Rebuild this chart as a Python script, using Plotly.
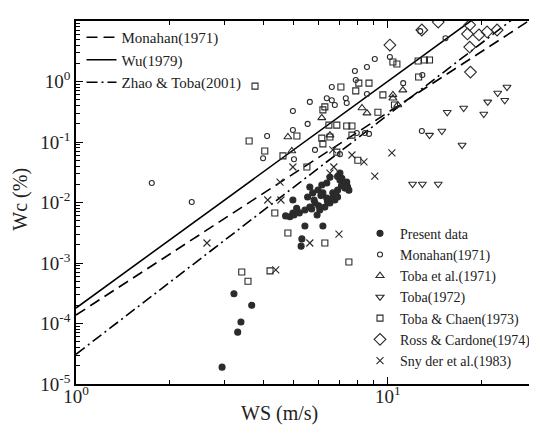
import plotly.graph_objects as go

# empirical fits, two end points each (straight lines on log-log axes)
fit_ws = [1.0, 30.0]
fit_monahan = [1.38e-4, 12.2]
fit_wu = [1.8e-4, 62.0]
fit_zhao = [3.1e-5, 21.6]

present_ws = [2.94, 3.21, 3.66, 3.38, 3.30,
              4.96, 5.42, 6.19, 5.30, 5.27, 4.96, 4.85, 5.14, 5.42, 5.62,
              5.84, 5.53, 5.74, 5.97, 6.14, 6.37, 6.52, 7.02, 7.12, 7.38,
              7.38, 5.93, 6.05, 6.28, 6.52, 6.76, 6.90, 6.66, 6.37, 5.62,
              6.19, 7.28, 7.43, 7.02, 6.90,
              5.00, 5.20, 5.70, 6.00, 6.40, 6.60, 5.80, 6.10, 6.90, 7.10,
              7.30, 7.50, 4.70, 5.10, 6.80]
present_wc = [1.9e-5, 3.1e-4, 2.0e-4, 1.06e-4, 7.2e-5,
              0.011, 0.0041, 0.0041, 0.0025, 0.0019, 0.0067, 0.0058, 0.0070, 0.0075, 0.0084,
              0.0098, 0.0123, 0.0144, 0.0161, 0.0195, 0.021, 0.0262, 0.0307, 0.0252, 0.0218,
              0.0195, 0.0062, 0.0075, 0.0084, 0.0098, 0.011, 0.0123, 0.0144, 0.0118, 0.018,
              0.0144, 0.0173, 0.018, 0.0236, 0.027,
              0.0062, 0.0067, 0.0078, 0.0088, 0.0105, 0.0115, 0.011, 0.013, 0.016, 0.019,
              0.021, 0.016, 0.0060, 0.0080, 0.014]

monahan_ws = [1.75, 2.35, 4.10, 3.98, 9.08, 8.57, 10.15, 7.84, 7.89, 6.61,
              5.62, 4.96, 6.37, 6.61, 6.76, 7.33, 7.38, 8.57, 11.2, 5.53,
              4.96, 5.84, 7.02, 7.95, 8.44, 8.70, 12.85, 12.7, 12.9, 15.3, 5.00]
monahan_wc = [0.021, 0.0102, 0.126, 0.054, 2.36, 1.74, 2.54, 1.49, 1.06, 0.81,
              0.46, 0.325, 0.53, 0.49, 0.41, 0.53, 0.44, 0.62, 0.94, 0.199,
              0.158, 0.074, 0.063, 0.141, 0.141, 0.136, 0.152, 6.8, 1.28, 5.2, 0.052]

toba71_ws = [4.78, 4.92, 6.14, 8.26, 8.57, 10.38, 11.17, 10.38, 10.76, 6.52]
toba71_wc = [0.121, 0.071, 0.25, 0.365, 0.30, 0.60, 0.72, 0.53, 0.41, 0.13]

toba72_ws = [12.0, 12.9, 14.5, 13.6, 14.9, 17.3, 15.5, 17.5, 20.3, 20.9, 22.5, 23.7, 24.1]
toba72_wc = [0.0202, 0.0202, 0.0202, 0.13, 0.152, 0.089, 0.31, 0.365, 0.29, 0.46, 0.645, 0.49, 0.81]

chaen_ws = [3.75, 3.59, 4.03, 3.40, 3.56, 4.19, 4.34, 4.78, 6.28, 7.50,
            5.50, 10.38, 10.69, 12.5, 13.1, 13.6, 12.55, 8.07, 8.70, 7.07,
            7.89, 9.64, 10.5, 6.19, 6.28, 9.29, 6.47, 6.86, 7.38, 7.67,
            5.11, 4.61, 6.14, 6.52, 6.19, 7.67, 8.01, 6.86]
chaen_wc = [0.84, 0.104, 0.071, 0.00071, 0.00050, 0.00074, 0.0067, 0.00313, 0.00214, 0.00104,
            0.0386, 2.10, 1.95, 2.18, 2.27, 2.27, 1.19, 0.94, 0.94, 0.81,
            0.70, 0.60, 0.41, 0.34, 0.38, 0.31, 0.19, 0.19, 0.184, 0.184,
            0.126, 0.059, 0.116, 0.121, 0.093, 0.13, 0.050, 0.068]

ross_ws = [10.15, 14.5, 12.85, 18.3, 18.0, 19.6, 20.8, 22.4, 18.3, 18.4]
ross_wc = [4.0, 9.6, 7.1, 8.6, 6.1, 5.9, 6.6, 7.1, 3.7, 1.43]

snyder_ws = [4.96, 7.67, 8.38, 10.3, 9.08, 4.51, 4.12, 4.54, 6.52, 6.71, 6.66, 6.97, 5.62, 4.37, 2.63]
snyder_wc = [0.0386, 0.061, 0.047, 0.066, 0.0274, 0.0218, 0.011, 0.011, 0.0307, 0.0386,
             0.074, 0.0030, 0.00214, 0.00077, 0.00214]

x_ticks = [1, 10]
x_ticktext = ["10<sup>0</sup>", "10<sup>1</sup>"]
y_ticks = [1e-5, 1e-4, 1e-3, 1e-2, 1e-1, 1, 10]
y_ticktext = ["10<sup>-5</sup>", "10<sup>-4</sup>", "10<sup>-3</sup>", "10<sup>-2</sup>",
              "10<sup>-1</sup>", "10<sup>0</sup>", "10<sup>1</sup>"]

x_minor = [k * 10 ** e for e in range(0, 2) for k in range(2, 10) if k * 10 ** e <= 30]
y_minor = [k * 10.0 ** e for e in range(-5, 1) for k in range(2, 10)]

SERIF = "Liberation Serif, Times New Roman, serif"
INK = "#222"

fig = go.Figure()

# fitted lines -> first legend
fig.add_trace(go.Scatter(x=fit_ws, y=fit_monahan, mode="lines", name="Monahan(1971)",
                         line=dict(color="black", width=1.6, dash="11px,6px"), legend="legend"))
fig.add_trace(go.Scatter(x=fit_ws, y=fit_wu, mode="lines", name="Wu(1979)",
                         line=dict(color="black", width=1.6), legend="legend"))
fig.add_trace(go.Scatter(x=fit_ws, y=fit_zhao, mode="lines", name="Zhao & Toba(2001)",
                         line=dict(color="black", width=1.6, dash="11px,4px,2px,4px"), legend="legend"))

# observations -> second legend
obs = [
    ("Present data", present_ws, present_wc, "circle", 6),
    ("Monahan(1971)", monahan_ws, monahan_wc, "circle-open", 5),
    ("Toba et al.(1971)", toba71_ws, toba71_wc, "triangle-up-open", 7),
    ("Toba(1972)", toba72_ws, toba72_wc, "triangle-down-open", 7),
    ("Toba & Chaen(1973)", chaen_ws, chaen_wc, "square-open", 6),
    ("Ross & Cardone(1974)", ross_ws, ross_wc, "diamond-open", 9),
    ("Sny der et al.(1983)", snyder_ws, snyder_wc, "x-thin-open", 7),
]
for name, xs, ys, sym, size in obs:
    fig.add_trace(go.Scatter(
        x=xs, y=ys, mode="markers", name=name, legend="legend2",
        marker=dict(symbol=sym, size=size, color="#2b2b2b",
                    line=dict(color="#2b2b2b", width=1.1)),
    ))

axis_common = dict(
    type="log", showgrid=False, zeroline=False, automargin=False,
    showline=True, linecolor="black", linewidth=1.6, mirror="ticks",
    ticks="inside", ticklen=7, tickwidth=1.2, tickcolor="black",
    tickmode="array",
    tickfont=dict(family=SERIF, size=19, color=INK),
)

# the page body keeps its default 8px margin, so the figure is 8px smaller
fig.update_layout(
    width=529, height=419,
    margin=dict(l=68, r=1, t=13, b=43, autoexpand=False),
    paper_bgcolor="white", plot_bgcolor="white",
    font=dict(family=SERIF, color=INK),
    xaxis=dict(axis_common, range=[0, 1.475], tickvals=x_ticks, ticktext=x_ticktext,
               ticklabelstandoff=-6,
               minor=dict(tickmode="array", tickvals=x_minor, ticks="inside", ticklen=4,
                          tickcolor="black")),
    yaxis=dict(axis_common, range=[-5, 1], tickvals=y_ticks, ticktext=y_ticktext,
               minor=dict(tickmode="array", tickvals=y_minor, ticks="inside", ticklen=4,
                          tickcolor="black")),
    legend=dict(x=0.012, y=1.0, xanchor="left", yanchor="top",
                bgcolor="rgba(0,0,0,0)", font=dict(family=SERIF, size=15, color=INK),
                itemwidth=30, tracegroupgap=0),
    legend2=dict(x=1.0, y=0.02, xanchor="right", yanchor="bottom",
                 bgcolor="rgba(0,0,0,0)", font=dict(family=SERIF, size=14, color=INK),
                 itemwidth=30, tracegroupgap=0),
    annotations=[
        dict(text="WS (m/s)", xref="paper", yref="paper", x=0.443, y=-0.08,
             xanchor="center", yanchor="middle", showarrow=False,
             font=dict(family=SERIF, size=20, color=INK)),
        dict(text="Wc (%)", xref="paper", yref="paper", x=-0.12, y=0.51,
             xanchor="center", yanchor="middle", showarrow=False, textangle=-90,
             font=dict(family=SERIF, size=20, color=INK)),
    ],
)

fig.write_html("out.html")
